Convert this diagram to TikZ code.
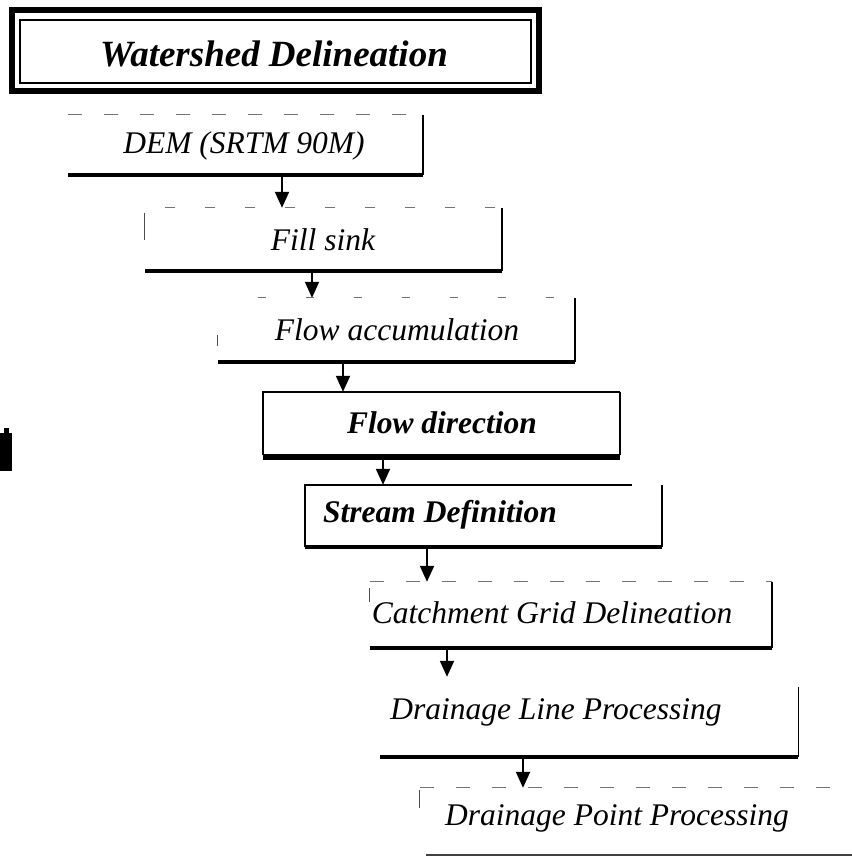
\documentclass[tikz,border=0pt]{standalone}
\usepackage{fontspec}
\setmainfont{Liberation Serif}
\usetikzlibrary{arrows.meta}
\begin{document}
\begin{tikzpicture}[x=1pt,y=-1pt,
  box/.style={rectangle,draw=none,inner sep=0pt},
  lbl/.style={inner sep=0pt,font=\fontsize{31.5}{34}\selectfont\itshape},
  blbl/.style={inner sep=0pt,font=\fontsize{31.5}{34}\selectfont\bfseries\itshape},
  faint/.style={draw=black!55,line width=1.3pt,dash pattern=on 14pt off 22pt},
  tick/.style={draw=black!70,line width=1.2pt},
  side/.style={draw=black,line width=2.4pt},
  base/.style={draw=black,line width=3.6pt},
  arr/.style={draw=black,line width=2pt,-{Triangle[width=14pt,length=16pt]}}]
\useasboundingbox (0,0) rectangle (851,859);
\fill[white] (0,0) rectangle (851,859);

% title
\node[box,minimum width=527pt,minimum height=81pt] (title) at (275.5,50.5) {};
\draw[line width=6pt] (title.south west) rectangle (title.north east);
\draw[line width=2pt] ([shift={(8,10)}]title.north west) rectangle ([shift={(-8,-8)}]title.south east);
\node[inner sep=0pt,font=\fontsize{37}{40}\selectfont\bfseries\itshape] (ttitle) at (274,54) {Watershed Delineation};

% boxes
\node[box,minimum width=355pt,minimum height=60pt] (dem) at (245.5,145) {};
\node[box,minimum width=357pt,minimum height=63pt] (fill) at (323.5,239.5) {};
\node[box,minimum width=357pt,minimum height=64pt] (acc) at (396.5,330) {};
\node[box,minimum width=357pt,minimum height=63pt] (dir) at (441.5,423.5) {};
\node[box,minimum width=357pt,minimum height=62pt] (str) at (483.5,516) {};
\node[box,minimum width=402pt,minimum height=66pt] (cat) at (571,615) {};
\node[box,minimum width=418pt,minimum height=80pt] (dl) at (589,717) {};
\node[box,minimum width=435pt,minimum height=67pt] (dp) at (637.5,821.5) {};

% texts
\node[lbl] (tdem) at (244,146) {DEM (SRTM 90M)};
\node[lbl] (tfill) at (323,240) {Fill sink};
\node[lbl] (tacc) at (397,330) {Flow accumulation};
\node[blbl] (tdir) at (442,423) {Flow direction};
\node[blbl] (tstr) at (440,515) {Stream Definition};
\node[lbl] (tcat) at (552,613) {Catchment Grid Delineation};
\node[lbl] (tdl) at (556,712) {Drainage Line Processing};
\node[lbl] (tdp) at (617,818) {Drainage Point Processing};

% DEM edges
\draw[faint] (dem.north west) -- (dem.north east);
\draw[side] (dem.north east) -- (dem.south east);
\draw[base] (dem.south east) -- (dem.south west);
% Fill sink
\draw[faint,dash pattern=on 10pt off 30pt] (fill.north west) ++(20,0) -- (fill.north east);
\draw[tick] (fill.north west) ++(0,5) -- ++(0,27);
\draw[side] (fill.north east) -- (fill.south east);
\draw[base] (fill.south east) -- (fill.south west);
% Flow accumulation
\draw[faint,dash pattern=on 8pt off 40pt] (acc.north west) ++(40,0) -- (acc.north east);
\draw[tick] (acc.north west) ++(0,37) -- ++(0,11);
\draw[side] (acc.north east) -- (acc.south east);
\draw[base] (acc.south east) -- (acc.south west);
% Flow direction
\draw[line width=2pt] (dir.south west) |- (dir.north east);
\draw[side] (dir.north east) -- (dir.south east);
\draw[line width=6pt] ([yshift=-2]dir.south east) -- ([yshift=-2]dir.south west);
% Stream definition
\draw[line width=1.6pt] (str.south west) |- ([xshift=-30]str.north east);
\draw[side] (str.north east) -- (str.south east);
\draw[base] (str.south east) -- (str.south west);
% Catchment
\draw[faint] (cat.north west) -- (cat.north east);
\draw[tick] (cat.north west) ++(0,6) -- ++(0,14);
\draw[side] (cat.north east) -- (cat.south east);
\draw[base] (cat.south east) -- (cat.south west);
% Drainage line
\draw[line width=1.4pt] (dl.north east) ++(0,10) -- (dl.south east);
\draw[base] (dl.south east) -- (dl.south west);
% Drainage point
\draw[faint] (dp.north west) -- (dp.north east);
\draw[tick] (dp.north west) ++(0,2) -- ++(0,18);
\draw[draw=black!75,line width=2pt] (dp.south west) ++(6,0) -- (dp.south east);

% arrows
\coordinate (x1) at (282,0);
\coordinate (x2) at (312,0);
\coordinate (x3) at (343,0);
\coordinate (x4) at (383,0);
\coordinate (x5) at (427,0);
\coordinate (x6) at (447,0);
\coordinate (x7) at (523,0);
\draw[arr] (x1 |- dem.south) -- (x1 |- fill.north);
\draw[arr] (x2 |- fill.south) -- (x2 |- acc.north);
\draw[arr] (x3 |- acc.south) -- (x3 |- dir.north);
\draw[arr] (x4 |- dir.south) -- (x4 |- str.north);
\draw[arr] (x5 |- str.south) -- (x5 |- cat.north);
\draw[arr] (x6 |- cat.south) -- (x6 |- dl.north);
\draw[arr] (x7 |- dl.south) -- (x7 |- dp.north);

% scan mark at left
\fill[black] (0,433) rectangle (12,471);
\fill[black] (4,428) rectangle (9,434);
\end{tikzpicture}
\end{document}
